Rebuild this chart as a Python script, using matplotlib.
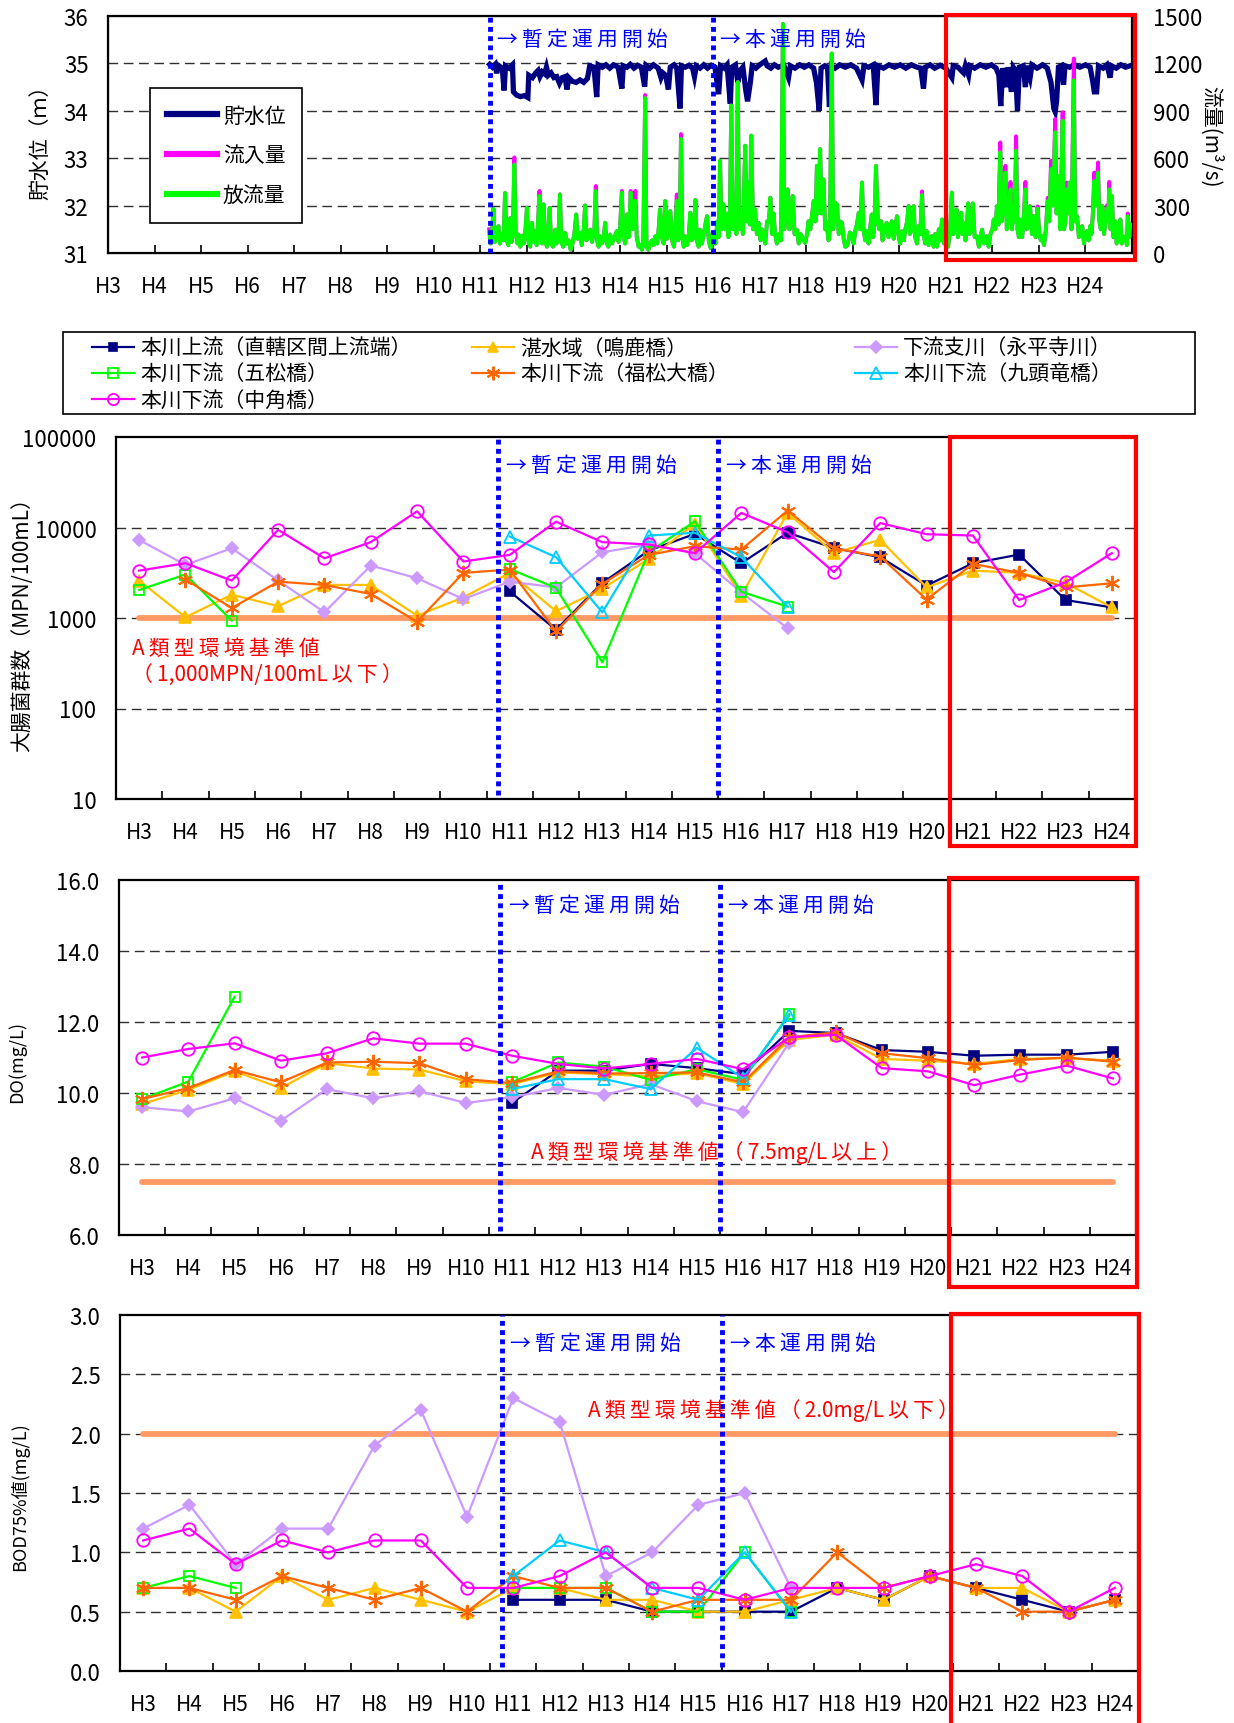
import numpy as np
import matplotlib
matplotlib.use("Agg")
import matplotlib.pyplot as plt
from matplotlib.patches import Rectangle
from matplotlib.lines import Line2D
from matplotlib.ticker import NullLocator

plt.rcParams['font.family'] = ['Noto Sans CJK JP', 'DejaVu Sans']

# ---------------- data ----------------
YEARS = ['H3', 'H4', 'H5', 'H6', 'H7', 'H8', 'H9', 'H10', 'H11', 'H12', 'H13',
         'H14', 'H15', 'H16', 'H17', 'H18', 'H19', 'H20', 'H21', 'H22', 'H23', 'H24']
nan = np.nan

# reservoir water level (m) : (time in H-year, level)
LEVEL_OBS = [
 (11.20,34.98),(11.26,34.92),(11.32,34.98),(11.35,34.79),(11.38,34.96),(11.47,34.90),(11.51,34.43),
 (11.54,34.95),(11.62,34.90),(11.69,34.97),(11.71,34.40),(11.78,34.33),(11.86,34.30),(11.95,34.32),
 (12.02,34.28),(12.04,34.75),(12.12,34.70),(12.19,34.80),(12.24,34.85),(12.28,34.72),(12.33,34.82),
 (12.38,34.78),(12.42,34.92),(12.46,34.75),(12.52,34.80),(12.58,34.70),(12.64,34.72),(12.70,34.58),
 (12.76,34.70),(12.82,34.72),(12.86,34.45),(12.90,34.70),(12.98,34.62),(13.06,34.60),(13.14,34.65),
 (13.22,34.60),(13.30,34.68),(13.35,34.95),(13.44,34.92),(13.50,34.29),(13.53,34.97),(13.62,34.92),
 (13.70,34.97),(13.78,34.90),(13.86,34.97),(13.96,34.92),(14.04,34.47),(14.07,34.95),(14.15,34.92),
 (14.22,34.98),(14.30,34.90),(14.38,34.96),(14.46,34.92),(14.53,34.51),(14.56,34.96),(14.64,34.90),
 (14.72,34.97),(14.82,34.90),(14.88,34.70),(14.92,34.80),(14.98,34.75),(15.04,34.45),(15.08,34.92),
 (15.16,34.97),(15.22,34.90),(15.29,34.05),(15.32,34.95),(15.40,34.92),(15.48,34.96),(15.56,34.90),
 (15.60,34.72),(15.64,34.95),(15.72,34.90),(15.80,34.97),(15.88,34.90),(15.96,34.96),(16.04,34.92),
 (16.12,34.35),(16.16,34.95),(16.24,34.90),(16.30,34.97),(16.37,34.15),(16.40,34.92),(16.48,34.97),
 (16.53,34.60),(16.58,34.85),(16.64,34.92),(16.70,34.45),(16.74,34.20),(16.80,34.60),(16.84,34.95),
 (16.92,34.90),(17.00,34.97),(17.12,35.05),(17.16,34.95),(17.24,34.90),(17.32,34.97),(17.40,34.92),
 (17.52,34.96),(17.62,34.70),(17.66,34.95),(17.76,34.90),(17.86,34.97),(17.96,34.92),(18.06,34.97),
 (18.16,34.90),(18.22,34.60),(18.28,34.00),(18.32,34.90),(18.40,34.95),(18.46,34.92),(18.50,34.08),
 (18.54,34.95),(18.62,34.90),(18.72,34.97),(18.84,34.92),(18.96,34.97),(19.08,34.90),(19.20,34.65),
 (19.24,34.95),(19.34,34.92),(19.44,34.97),(19.50,34.12),(19.54,34.95),(19.66,34.90),(19.78,34.97),
 (19.90,34.92),(20.02,34.97),(20.14,34.90),(20.26,34.97),(20.38,34.92),(20.46,34.90),(20.52,34.47),
 (20.56,34.92),(20.66,34.97),(20.76,34.90),(20.88,34.96),(21.00,34.90),(21.13,34.70),(21.16,34.95),
 (21.26,34.92),(21.38,34.80),(21.42,34.95),(21.49,34.75),(21.52,34.95),(21.62,34.90),(21.74,34.97),
 (21.86,34.92),(21.98,34.97),(22.08,34.90),(22.14,34.75),(22.18,34.10),(22.22,34.90),(22.30,34.50),
 (22.34,34.92),(22.41,34.40),(22.45,34.92),(22.50,34.85),(22.54,34.00),(22.58,34.92),(22.66,34.95),
 (22.71,34.50),(22.74,34.95),(22.81,34.70),(22.85,34.97),(22.96,34.90),(23.08,34.97),(23.18,34.90),
 (23.26,34.60),(23.32,34.05),(23.35,33.98),(23.38,34.20),(23.42,34.92),(23.48,34.95),(23.53,34.55),
 (23.56,34.95),(23.66,34.92),(23.76,34.97),(23.88,34.92),(24.00,34.97),(24.10,34.92),(24.16,34.60),
 (24.19,34.40),(24.24,34.40),(24.28,34.95),(24.38,34.90),(24.46,34.97),(24.53,34.70),(24.56,34.95),
 (24.66,34.90),(24.76,34.97),(24.86,34.92),(24.96,34.95)]

# outflow (m3/s) : (time, value)
OUTFLOW_OBS = [
 (11.19,130),(11.22,60),(11.25,120),(11.28,280),(11.31,70),(11.35,150),(11.39,170),(11.42,60),
 (11.46,120),(11.50,80),(11.53,380),(11.56,90),(11.60,50),(11.64,220),(11.67,70),(11.70,150),
 (11.73,560),(11.76,120),(11.80,60),(11.82,117),(11.86,40),(11.90,110),(11.93,60),(11.97,150),
 (12.00,286),(12.03,80),(12.07,40),(12.11,191),(12.14,70),(12.18,138),(12.21,50),(12.24,200),
 (12.27,361),(12.30,100),(12.33,60),(12.36,308),(12.39,80),(12.43,40),(12.46,150),(12.49,286),
 (12.52,60),(12.56,40),(12.61,148),(12.64,60),(12.68,120),(12.71,371),(12.74,70),(12.78,40),
 (12.82,127),(12.86,60),(12.90,80),(12.94,21),(12.98,60),(13.02,120),(13.06,244),(13.09,90),
 (13.14,127),(13.18,50),(13.22,150),(13.25,301),(13.28,80),(13.32,110),(13.36,148),(13.40,70),
 (13.45,150),(13.48,393),(13.51,80),(13.54,40),(13.57,106),(13.61,60),(13.65,100),(13.68,191),
 (13.71,70),(13.75,40),(13.79,117),(13.83,60),(13.88,100),(13.93,138),(13.97,70),(14.00,150),
 (14.04,382),(14.07,120),(14.11,60),(14.15,244),(14.19,100),(14.23,382),(14.27,150),(14.30,200),
 (14.33,330),(14.36,100),(14.40,40),(14.43,53),(14.47,20),(14.50,60),(14.54,981),(14.57,40),
 (14.61,20),(14.65,63),(14.69,80),(14.72,50),(14.76,106),(14.80,60),(14.83,150),(14.86,276),
 (14.90,100),(14.94,60),(14.97,329),(15.01,90),(15.05,150),(15.08,265),(15.12,80),(15.16,40),
 (15.19,150),(15.22,329),(15.25,80),(15.28,120),(15.31,722),(15.34,100),(15.37,40),(15.40,106),
 (15.44,50),(15.48,120),(15.51,255),(15.54,80),(15.58,100),(15.62,335),(15.65,80),(15.69,40),
 (15.72,148),(15.76,60),(15.80,120),(15.84,190),(15.87,233),(15.91,70),(15.95,30),(15.98,120),
 (16.01,120),(16.05,60),(16.09,200),(16.12,100),(16.15,584),(16.18,150),(16.22,308),(16.26,150),
 (16.30,250),(16.33,100),(16.36,200),(16.39,934),(16.43,150),(16.46,276),(16.50,120),(16.53,1082),
 (16.56,150),(16.60,255),(16.64,120),(16.69,679),(16.72,200),(16.76,446),(16.79,180),(16.82,743),
 (16.86,150),(16.90,276),(16.94,120),(16.98,191),(17.02,80),(17.05,150),(17.08,117),(17.12,60),
 (17.16,200),(17.20,200),(17.23,350),(17.27,120),(17.30,250),(17.33,127),(17.37,60),(17.42,120),
 (17.46,80),(17.50,1450),(17.53,150),(17.56,300),(17.60,403),(17.64,150),(17.68,250),(17.71,361),
 (17.75,120),(17.80,148),(17.84,60),(17.88,120),(17.93,90),(17.98,63),(18.02,120),(18.05,201),
 (18.09,150),(18.13,250),(18.16,329),(18.20,200),(18.23,552),(18.26,250),(18.30,658),(18.33,250),
 (18.37,467),(18.41,150),(18.44,191),(18.48,80),(18.51,150),(18.55,1263),(18.58,150),(18.62,320),
 (18.66,308),(18.70,120),(18.73,200),(18.77,191),(18.81,80),(18.84,40),(18.87,42),(18.91,80),
 (18.94,130),(18.98,117),(19.02,60),(19.06,150),(19.09,180),(19.13,255),(19.16,150),(19.20,446),
 (19.23,150),(19.27,80),(19.30,138),(19.34,60),(19.37,150),(19.41,244),(19.44,100),(19.47,200),
 (19.50,552),(19.54,200),(19.57,150),(19.61,201),(19.64,80),(19.68,150),(19.73,191),(19.77,100),
 (19.80,150),(19.84,201),(19.88,90),(19.91,150),(19.95,233),(19.99,100),(20.02,60),(20.06,138),
 (20.10,80),(20.13,150),(20.17,200),(20.20,297),(20.23,120),(20.27,150),(20.31,297),(20.34,100),
 (20.38,60),(20.41,170),(20.45,120),(20.49,367),(20.52,120),(20.56,60),(20.59,138),(20.63,50),
 (20.66,100),(20.70,106),(20.74,40),(20.77,120),(20.81,40),(20.85,150),(20.88,80),(20.92,212),
 (20.96,60),(21.01,85),(21.05,40),(21.09,150),(21.13,382),(21.16,120),(21.20,200),(21.23,276),
 (21.26,100),(21.30,150),(21.33,255),(21.36,120),(21.38,191),(21.42,80),(21.45,150),(21.48,314),
 (21.51,120),(21.55,150),(21.58,314),(21.62,100),(21.67,106),(21.71,40),(21.74,100),(21.78,148),
 (21.82,60),(21.85,100),(21.88,106),(21.92,40),(21.96,120),(22.00,150),(22.03,212),(22.06,150),
 (22.10,297),(22.13,180),(22.17,637),(22.20,200),(22.24,300),(22.28,509),(22.31,150),(22.35,250),
 (22.39,403),(22.42,150),(22.46,276),(22.48,200),(22.51,647),(22.54,150),(22.57,100),(22.60,212),
 (22.64,100),(22.67,200),(22.71,403),(22.74,150),(22.78,200),(22.81,297),(22.85,120),(22.89,233),
 (22.93,100),(22.97,280),(23.01,120),(23.04,80),(23.07,106),(23.11,50),(23.15,150),(23.19,329),
 (23.22,200),(23.26,531),(23.30,300),(23.35,764),(23.38,250),(23.42,488),(23.46,150),(23.51,838),
 (23.54,150),(23.57,200),(23.60,403),(23.63,250),(23.66,446),(23.70,150),(23.75,1093),(23.78,200),
 (23.82,233),(23.86,100),(23.89,150),(23.93,170),(23.97,60),(24.00,120),(24.03,138),(24.07,80),
 (24.10,170),(24.13,120),(24.16,250),(24.19,456),(24.23,300),(24.27,509),(24.30,200),(24.33,150),
 (24.36,297),(24.40,120),(24.43,200),(24.46,280),(24.49,200),(24.51,403),(24.54,150),(24.57,361),
 (24.60,100),(24.64,201),(24.67,60),(24.71,100),(24.75,212),(24.78,60),(24.82,100),(24.86,106),
 (24.89,50),(24.91,233),(24.94,100),(24.96,180)]

# inflow where it visibly exceeds outflow (elsewhere equal to outflow)
INFLOW_PEAKS = {11.19: 150, 11.73: 605, 12.27: 393, 13.48: 424, 14.04: 393, 14.23: 393, 14.33: 393,
                14.54: 1000, 15.22: 371, 15.31: 753, 20.49: 390, 22.17: 700, 22.28: 552, 22.39: 450,
                22.51: 739, 22.71: 450, 22.97: 295, 23.19: 350, 23.26: 584, 23.35: 849, 23.51: 891,
                23.60: 446, 23.75: 1231, 24.19: 509, 24.27: 573, 24.46: 300, 24.51: 450, 24.91: 250}

# fecal coliform (MPN/100mL)
COLI_JORYU    = [nan]*8 + [1970, 740, 2440, 5550, 8500, 4030, 8750, 5950, 4690, 2280, 4030, 5020, 1580, 1310]
COLI_NARUKA   = [2590, 1020, 1810, 1350, 2320, 2320, 1060, 1690, 3150, 1190, 2100, 4500, 11000, 1770,
                 14500, 5240, 7300, 2180, 3340, 3150, 2440, 1310]
COLI_EIHEIJI  = [7290, 3860, 5900, 2600, 1155, 3800, 2750, 1620, 2520, 2180, 5330, 6490, 5200, 1920, 770] + [nan]*7
COLI_GOMATSU  = [2040, 3020, 935, nan, nan, nan, nan, nan, 3480, 2150, 323, 5330, 11700, 1950, 1335] + [nan]*7
COLI_FUKUMATSU = [nan, 2660, 1290, 2520, 2320, 1840, 910, 3150, 3430, 710, 2380, 4980, 6210, 5700, 15400,
                  5900, 4770, 1600, 3970, 3150, 2180, 2420]
COLI_KUZURYU  = [nan]*8 + [7950, 4700, 1155, 8150, 8750, 4700, 1335] + [nan]*7
COLI_NAKATSUNO = [3340, 4030, 2590, 9420, 4570, 6890, 15100, 4210, 4980, 11600, 6890, 6490, 5200, 14500,
                  8870, 3210, 11200, 8430, 8150, 1580, 2480, 5200]

# DO (mg/L)
DO_JORYU    = [nan]*8 + [9.72, 10.63, 10.63, 10.82, 10.70, 10.53, 11.75, 11.69, 11.21, 11.16, 11.05, 11.08, 11.08, 11.16]
DO_NARUKA   = [9.69, 10.09, 10.61, 10.14, 10.84, 10.69, 10.66, 10.33, 10.25, 10.58, 10.53, 10.47, 10.56, 10.25,
               11.50, 11.64, 10.96, 10.91, 10.82, 10.96, 10.98, 10.91]
DO_EIHEIJI  = [9.60, 9.48, 9.85, 9.22, 10.11, 9.85, 10.05, 9.72, 9.88, 10.14, 9.95, 10.25, 9.77, 9.46, 11.42] + [nan]*7
DO_GOMATSU  = [9.83, 10.32, 12.71, nan, nan, nan, nan, nan, 10.30, 10.86, 10.74, 10.37, 10.67, 10.37, 12.22] + [nan]*7
DO_FUKUMATSU = [9.83, 10.14, 10.65, 10.30, 10.86, 10.88, 10.84, 10.39, 10.28, 10.61, 10.55, 10.56, 10.58, 10.30,
                11.57, 11.71, 11.12, 10.98, 10.79, 10.93, 11.00, 10.88]
DO_KUZURYU  = [nan]*8 + [10.11, 10.39, 10.39, 10.11, 11.27, 10.42, 12.19] + [nan]*7
DO_NAKATSUNO = [11.00, 11.24, 11.40, 10.91, 11.12, 11.54, 11.39, 11.39, 11.05, 10.82, 10.69, 10.82, 10.96, 10.67,
                11.57, 11.64, 10.70, 10.61, 10.22, 10.52, 10.77, 10.41]

# BOD 75% value (mg/L)
BOD_JORYU    = [nan]*8 + [0.6, 0.6, 0.6, 0.5, 0.5, 0.5, 0.5, 0.7, 0.6, 0.8, 0.7, 0.6, 0.5, 0.6]
BOD_NARUKA   = [0.7, 0.7, 0.5, 0.8, 0.6, 0.7, 0.6, 0.5, 0.7, 0.7, 0.6, 0.6, 0.5, 0.5, 0.6, 0.7, 0.6, 0.8,
                0.7, 0.7, 0.5, 0.6]
BOD_EIHEIJI  = [1.2, 1.4, 0.9, 1.2, 1.2, 1.9, 2.2, 1.3, 2.3, 2.1, 0.8, 1.0, 1.4, 1.5, 0.7] + [nan]*7
BOD_GOMATSU  = [0.7, 0.8, 0.7, nan, nan, nan, nan, nan, 0.7, 0.7, 0.7, 0.5, 0.5, 1.0, 0.5] + [nan]*7
BOD_FUKUMATSU = [0.7, 0.7, 0.6, 0.8, 0.7, 0.6, 0.7, 0.5, 0.8, 0.7, 0.7, 0.5, 0.6, 0.6, 0.6, 1.0, 0.7, 0.8,
                 0.7, 0.5, 0.5, 0.6]
BOD_KUZURYU  = [nan]*8 + [0.8, 1.1, 1.0, 0.7, 0.6, 1.0, 0.5] + [nan]*7
BOD_NAKATSUNO = [1.1, 1.2, 0.9, 1.1, 1.0, 1.1, 1.1, 0.7, 0.7, 0.8, 1.0, 0.7, 0.7, 0.6, 0.7, 0.7, 0.7, 0.8,
                 0.9, 0.8, 0.5, 0.7]

STATIONS = ['本川上流（直轄区間上流端）', '湛水域（鳴鹿橋）', '下流支川（永平寺川）', '本川下流（五松橋）',
            '本川下流（福松大橋）', '本川下流（九頭竜橋）', '本川下流（中角橋）']

# ---------------- styles ----------------
STYLE = [
    dict(color='#000080', marker='s', ms=6.5, mfc='#000080', mew=1.2),
    dict(color='#FFC000', marker='^', ms=8.5, mfc='#FFC000', mew=1.2),
    dict(color='#CC99FF', marker='D', ms=6.5, mfc='#CC99FF', mew=1.2),
    dict(color='#00FF00', marker='s', ms=7.5, mfc='none', mew=1.3),
    dict(color='#FF6600', marker=(6, 2, 0), ms=11, mfc='#FF6600', mew=1.4),
    dict(color='#00CCFF', marker='^', ms=9, mfc='none', mew=1.3),
    dict(color='#FF00FF', marker='o', ms=9, mfc='none', mew=1.3),
]
BLUE = '#0000FF'
STD_COLOR = '#FF9966'
GRID_KW = dict(color='#303030', lw=1.0, ls=(0, (7, 4)), zorder=0.8)
THIN = '\u2009'


def spaced(s):
    """Wide letter spacing (as in the original) between non-ASCII characters."""
    out = s[0]
    for a, b in zip(s, s[1:]):
        if ord(a) > 127 or ord(b) > 127:
            out += THIN
        out += b
    return out


W, H = 1234, 1724
fig = plt.figure(figsize=(W / 100, H / 100), dpi=100)


def rect(l, t, r, b):
    return [l / W, 1 - b / H, (r - l) / W, (b - t) / H]


def red_box(ax, x0, x1, y0, y1):
    ax.add_patch(Rectangle((x0, y0), x1 - x0, y1 - y0, transform=ax.get_xaxis_transform(),
                           fill=False, ec='#FF0000', lw=3, clip_on=False, zorder=20))


# ================= panel 1 : water level & flows =================
ax1 = fig.add_axes(rect(108, 17, 1132, 254))
ax1.set_xlim(3, 25)
ax1.set_ylim(31, 36)
for y in [32, 33, 34, 35]:
    ax1.axhline(y, **GRID_KW)
lt = [p[0] for p in LEVEL_OBS]
lv = [p[1] for p in LEVEL_OBS]
ax1.plot(lt, lv, color='#000080', lw=3.8, zorder=3, solid_joinstyle='miter')
ax1.set_yticks([31, 32, 33, 34, 35, 36])
ax1.set_yticklabels(['31', '32', '33', '34', '35', '36'], fontsize=16)
ax1.set_xticks(range(3, 26))
ax1.set_xticklabels(YEARS + [''], fontsize=15)
ax1.tick_params(axis='x', direction='in', length=6, width=1.2, pad=16)
ax1.tick_params(axis='y', length=0, pad=14)
for s in ax1.spines.values():
    s.set_linewidth(1.6)

ax2 = ax1.twinx()
ax2.set_ylim(0, 1500)
ft = [p[0] for p in OUTFLOW_OBS]
fo = [p[1] for p in OUTFLOW_OBS]
fi = [INFLOW_PEAKS.get(t, v) for t, v in OUTFLOW_OBS]
ax2.plot(ft, fi, color='#FF00FF', lw=2.8, zorder=2)
ax2.plot(ft, fo, color='#00FF00', lw=2.8, zorder=3)
ax2.set_yticks([0, 300, 600, 900, 1200, 1500])
ax2.set_yticklabels(['0', '300', '600', '900', '1200', '1500'], fontsize=16)
ax2.tick_params(axis='y', length=0, pad=15)
ax2.axvline(11.2, color=BLUE, lw=3.5, ls=(0, (1, 0.9)), zorder=6)
ax2.axvline(16.0, color=BLUE, lw=3.5, ls=(0, (1, 0.9)), zorder=6)
ax2.text(11.36, 0.905, spaced('→暫定運用開始'), transform=ax2.get_xaxis_transform(), color=BLUE,
         fontsize=15, va='center', ha='left', zorder=7)
ax2.text(16.15, 0.905, spaced('→本運用開始'), transform=ax2.get_xaxis_transform(), color=BLUE,
         fontsize=15, va='center', ha='left', zorder=7)
leg_h = [Line2D([], [], color='#000080', lw=4.5), Line2D([], [], color='#FF00FF', lw=4.5),
         Line2D([], [], color='#00FF00', lw=4.5)]
lg = ax2.legend(leg_h, ['貯水位', '流入量', '放流量'], loc='upper left',
                bbox_to_anchor=((150 - 108) / 1024, (254 - 89) / 237), borderaxespad=0,
                fontsize=15, handlelength=2.4, handletextpad=0.3, labelspacing=0.85,
                borderpad=0.8, frameon=True, fancybox=False, edgecolor='black', framealpha=1)
lg.get_frame().set_linewidth(1.2)
lg.set_zorder(10)
red_box(ax2, 21.0, 25.06, -0.03, 1.004)
fig.text(40 / W, 1 - 137 / H, '貯水位（ｍ）', rotation=90, ha='center', va='center', fontsize=15)
fig.text(1211 / W, 1 - 137 / H, '流量(m³/s)', rotation=270, ha='center', va='center', fontsize=15)

# ================= legend box =================
fig.patches.append(Rectangle((63 / W, 1 - 415 / H), 1132 / W, 82 / H, transform=fig.transFigure,
                             fill=True, fc='white', ec='black', lw=1.2, zorder=0))


def handle(i):
    st = STYLE[i]
    return Line2D([], [], color=st['color'], lw=1.6, marker=st['marker'], ms=st['ms'] * 0.9,
                  mfc=st['mfc'], mec=st['color'], mew=st['mew'])


cols = [([0, 3, 6], 92), ([1, 4], 472), ([2, 5], 855)]
for idx, x in cols:
    fig.legend([handle(i) for i in idx], [STATIONS[i] for i in idx], loc='upper left',
               bbox_to_anchor=(x / W, 1 - 338 / H), frameon=False, fontsize=15, handlelength=2.0,
               handletextpad=0.3, labelspacing=0.2, borderpad=0, borderaxespad=0)


# ================= water quality panels =================
def wq_panel(box, series, ylim, yticks, ylabels, log, grid_vals, std, std_text, text_xy,
             ylabel, ylabel_xy, ylabel_size, ann_y, rb):
    ax = fig.add_axes(rect(*box))
    if log:
        ax.set_yscale('log')
    ax.set_xlim(-0.5, 21.5)
    ax.set_ylim(*ylim)
    for g in grid_vals:
        ax.axhline(g, **GRID_KW)
    x = np.arange(len(YEARS))
    ax.plot([x[0], x[-1]], [std, std], color=STD_COLOR, lw=4.2, solid_capstyle='round', zorder=1.5)
    for i, vals in enumerate(series):
        st = STYLE[i]
        ax.plot(x, vals, color=st['color'], lw=1.6, marker=st['marker'], ms=st['ms'],
                mfc=st['mfc'], mec=st['color'], mew=st['mew'], zorder=3 + i * 0.1)
    ax.set_yticks(yticks)
    ax.set_yticklabels(ylabels, fontsize=16)
    ax.yaxis.set_minor_locator(NullLocator())
    ax.tick_params(axis='y', length=0, pad=14)
    ax.set_xticks(np.arange(-0.5, 22, 1))
    ax.set_xticklabels([])
    ax.set_xticks(x, minor=True)
    ax.set_xticklabels(YEARS, minor=True, fontsize=15)
    ax.tick_params(axis='x', which='major', direction='in', length=6, width=1.2)
    ax.tick_params(axis='x', which='minor', length=0, pad=16)
    for s in ax.spines.values():
        s.set_linewidth(1.6)
    ax.axvline(7.75, ymin=0.01, color=BLUE, lw=3.5, ls=(0, (1, 0.9)), zorder=6)
    ax.axvline(12.5, ymin=0.01, color=BLUE, lw=3.5, ls=(0, (1, 0.9)), zorder=6)
    tr = ax.get_xaxis_transform()
    ax.text(7.93, ann_y, spaced('→暫定運用開始'), transform=tr, color=BLUE, fontsize=15,
            va='center', zorder=7)
    ax.text(12.68, ann_y, spaced('→本運用開始'), transform=tr, color=BLUE, fontsize=15,
            va='center', zorder=7)
    for (tx, ty), s in zip(text_xy, std_text):
        ax.text(tx, ty, spaced(s), transform=tr, color='#FF0000', fontsize=15, va='center',
                ha='left', zorder=7)
    red_box(ax, rb[0], rb[1], rb[2], rb[3])
    fig.text(ylabel_xy[0] / W, 1 - ylabel_xy[1] / H, ylabel, rotation=90, ha='center', va='center',
             fontsize=ylabel_size)
    return ax


wq_panel((116, 438, 1135, 800),
         [COLI_JORYU, COLI_NARUKA, COLI_EIHEIJI, COLI_GOMATSU, COLI_FUKUMATSU, COLI_KUZURYU, COLI_NAKATSUNO],
         (10, 100000), [10, 100, 1000, 10000, 100000], ['10', '100', '1000', '10000', '100000'], True,
         [100, 1000, 10000], 1000,
         ['A類型環境基準値', '（1,000MPN/100mL以下）'], [(-0.15, 0.417), (-0.15, 0.345)],
         '大腸菌群数（MPN/100mL）', (22, 620), 15, 0.923, (17.5, 21.53, -0.13, 1.0))

wq_panel((119, 881, 1136, 1236),
         [DO_JORYU, DO_NARUKA, DO_EIHEIJI, DO_GOMATSU, DO_FUKUMATSU, DO_KUZURYU, DO_NAKATSUNO],
         (6, 16), [6, 8, 10, 12, 14, 16], ['6.0', '8.0', '10.0', '12.0', '14.0', '16.0'], False,
         [8, 10, 12, 14], 7.5,
         ['A類型環境基準値（7.5mg/L以上）'], [(8.42, 0.234)],
         'DO(mg/L)', (17, 1062), 13, 0.93, (17.45, 21.53, -0.146, 1.006))

wq_panel((120, 1316, 1138, 1672),
         [BOD_JORYU, BOD_NARUKA, BOD_EIHEIJI, BOD_GOMATSU, BOD_FUKUMATSU, BOD_KUZURYU, BOD_NAKATSUNO],
         (0, 3), [0, 0.5, 1.0, 1.5, 2.0, 2.5, 3.0], ['0.0', '0.5', '1.0', '1.5', '2.0', '2.5', '3.0'], False,
         [0.5, 1.0, 1.5, 2.0, 2.5], 2.0,
         ['A類型環境基準値（2.0mg/L以下）'], [(9.61, 0.733)],
         'BOD75%値(mg/L)', (20, 1497), 13, 0.921, (17.45, 21.53, -0.17, 1.003))

fig.savefig('out.png', dpi=100)
